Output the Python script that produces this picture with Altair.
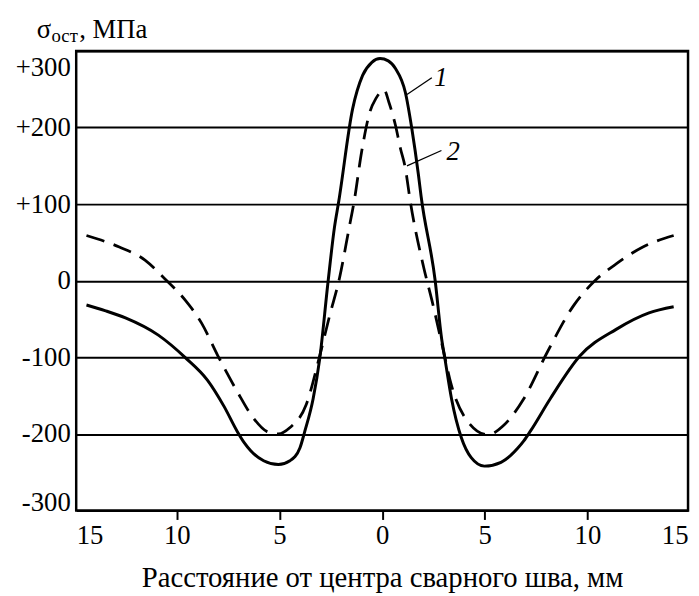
import altair as alt
import pandas as pd

# Curve 1 (solid)
x1 = [-14.4, -13.5, -12.5, -10.9, -9.6, -8.5, -7.7, -7.05, -6.7, -6.4, -5.77, -5.05, -4.49, -4.0, -3.77,
      -3.36, -3.04, -2.64, -2.32, -2.11, -1.44, -0.95, -0.5, -0.1, 0.3, 0.65, 1.13, 1.45, 1.77, 1.9,
      2.58, 2.9, 3.06, 3.38, 3.86, 4.34, 4.98, 5.79, 6.3, 6.59, 6.9, 7.23, 8.19, 9.64, 11.4, 13.0, 14.2]
y1 = [-31.7, -39, -48.5, -71, -100, -130, -164, -197, -212, -222, -235, -240, -235, -218, -197,
      -154, -102, -3, 70, 104, 224, 268, 285, 290, 287, 277, 246, 198, 138, 110,
      1, -76, -102, -154, -205, -231, -242, -237, -227, -219, -209, -196, -154, -98, -63.5, -42, -34]

# Curve 2 (dashed)
x2 = [-14.4, -12.8, -11.55, -10.6, -9.6, -8.8, -8.0, -7.05, -6.25, -5.6, -5.05, -4.5, -3.7, -3.04,
      -2.56, -2.08, -1.6, -1.36, -1.0, -0.6, -0.3, 0.1, 0.33, 0.65, 0.89, 1.13, 1.37, 2.02, 2.42,
      2.9, 3.38, 4.18, 5.14, 5.95, 6.9, 8.03, 9.3, 10.4, 11.4, 12.7, 14.2]
y2 = [59, 44, 27, 3, -25, -55, -98, -145, -180, -197, -200, -192, -162, -98,
      -46, 3, 70, 104, 168, 220, 238, 249, 233, 203, 173, 147, 104, 18, -25,
      -81, -137, -184, -201, -188, -154, -94, -33.5, 1, 22, 44, 59]

x_ticks = [-14.9, -10, -5, 0, 5, 10, 14.9]
y_ticks = [-300, -200, -100, 0, 100, 200, 300]

curve_labels = ["1", "2"]
label_x = [2.86, 3.46]
label_y = [265, 168]
leader_x = [1.21, 1.21]
leader_y = [243, 150]
leader_x2 = [2.42, 2.89]
leader_y2 = [265, 170]

FONT = "'Liberation Serif', 'Times New Roman', Times, serif"

df1 = pd.DataFrame({"x": x1, "y": y1})
df2 = pd.DataFrame({"x": x2, "y": y2})
dlab = pd.DataFrame({"t": curve_labels, "x": label_x, "y": label_y})
dlead = pd.DataFrame({"x": leader_x, "y": leader_y, "x2": leader_x2, "y2": leader_y2})

xs = alt.Scale(domain=[-14.9, 14.9], nice=False, zero=False)
ys = alt.Scale(domain=[-300, 300], nice=False, zero=False)

xaxis = alt.Axis(
    values=x_ticks,
    labelExpr="'' + abs(round(datum.value))",
    title="Расстояние от центра сварного шва, мм",
    titleFont=FONT, titleFontSize=29, titleFontWeight="normal", titleColor="black",
    titlePadding=16,
    labelFont=FONT, labelFontSize=27, labelColor="black", labelPadding=3,
    labelFlush=True, labelOverlap=False,
    domain=False, grid=False,
    ticks=True, tickSize=9, tickWidth=2, tickColor="black",
    tickOpacity={"condition": {"test": "abs(datum.value) > 14", "value": 0}, "value": 1},
)
yaxis = alt.Axis(
    values=y_ticks,
    labelExpr="datum.value > 0 ? '+' + datum.value : '' + datum.value",
    title=None,
    labelFont=FONT, labelFontSize=27, labelColor="black", labelPadding=6,
    labelOverlap=False,
    labelBaseline={"condition": [
        {"test": "datum.value == 300", "value": "top"},
        {"test": "datum.value == -300", "value": "alphabetic"}], "value": "middle"},
    labelOffset={"condition": {"test": "datum.value == 300", "value": 4}, "value": 0},
    domain=False, ticks=False,
    grid=True, gridColor="black", gridWidth=2, gridOpacity=1,
)

base_x = alt.X("x:Q", scale=xs, axis=xaxis)
base_y = alt.Y("y:Q", scale=ys, axis=yaxis)

solid = alt.Chart(df1).mark_line(color="black", strokeWidth=3, interpolate="monotone").encode(
    x=base_x, y=base_y)
dashed = alt.Chart(df2).mark_line(color="black", strokeWidth=2.8, strokeDash=[19, 10],
                                  interpolate="monotone").encode(x="x:Q", y="y:Q")
leaders = alt.Chart(dlead).mark_rule(color="black", strokeWidth=1.3).encode(
    x="x:Q", y="y:Q", x2="x2:Q", y2="y2:Q")
labels = alt.Chart(dlab).mark_text(font=FONT, fontSize=27, fontStyle="italic", color="black",
                                   align="center", baseline="middle").encode(
    x="x:Q", y="y:Q", text="t:N")

t_sigma = alt.Chart(pd.DataFrame({"a": [0]})).mark_text(
    text="σ", font=FONT, fontSize=27, color="black", align="left", baseline="alphabetic").encode(
    x=alt.value(-40), y=alt.value(-13))
t_sub = alt.Chart(pd.DataFrame({"a": [0]})).mark_text(
    text="ост", font=FONT, fontSize=19, color="black", align="left", baseline="alphabetic").encode(
    x=alt.value(-25), y=alt.value(-9))
t_unit = alt.Chart(pd.DataFrame({"a": [0]})).mark_text(
    text=", МПа", font=FONT, fontSize=27, color="black", align="left", baseline="alphabetic").encode(
    x=alt.value(3), y=alt.value(-13))

chart = alt.layer(solid, dashed, leaders, labels, t_sigma, t_sub, t_unit).properties(
    width=619, height=465,
    autosize=alt.AutoSizeParams(type="none"),
    padding={"left": 69, "top": 40, "right": 3, "bottom": 80},
    background="white",
).configure_view(stroke="black", strokeWidth=2.5)

chart.save("out.html", embed_options={"renderer": "svg", "actions": False})
